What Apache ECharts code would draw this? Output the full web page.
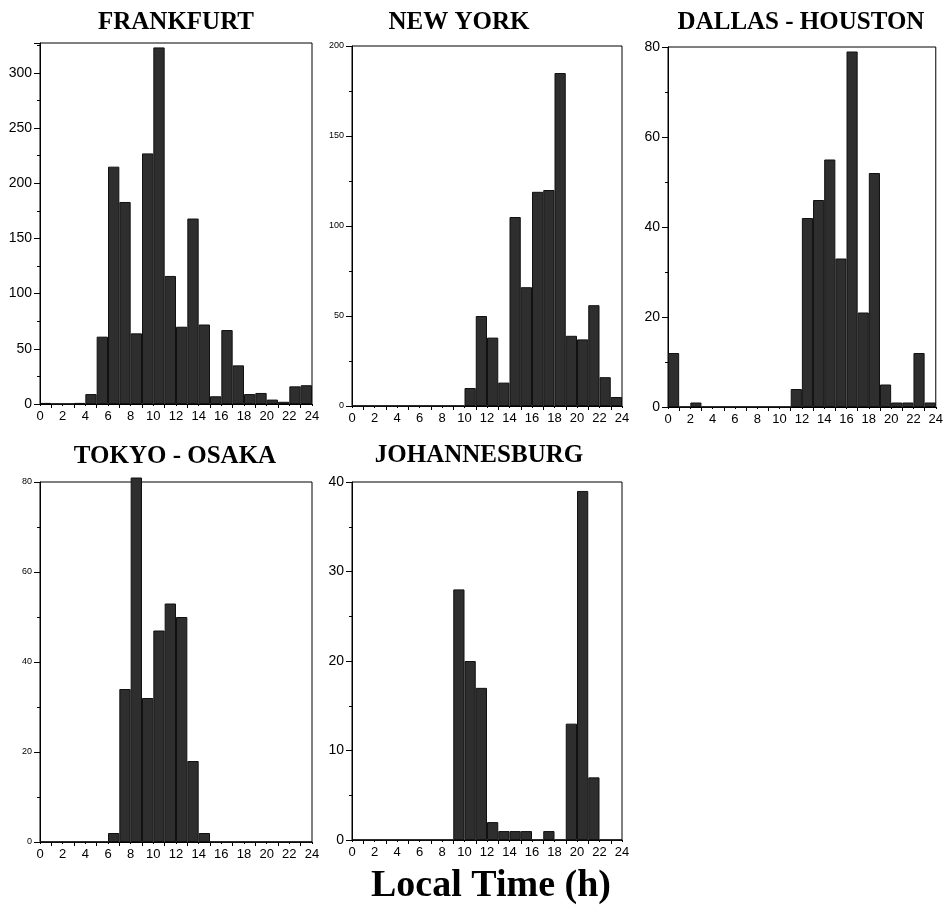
<!DOCTYPE html>
<html><head><meta charset="utf-8">
<script src="https://cdn.jsdelivr.net/npm/echarts@6/dist/echarts.min.js"></script>
<style>html,body{margin:0;padding:0;background:#fff}#c{width:946px;height:912px}</style>
</head><body><div id="c"></div>
<script>
// Hourly bins (start hour of each bin)
const binStarts = [0,1,2,3,4,5,6,7,8,9,10,11,12,13,14,15,16,17,18,19,20,21,22,23];
const xTickLabels = [0,2,4,6,8,10,12,14,16,18,20,22,24];

const frankfurt    = [1,0,0,1,9,61,215,183,64,227,323,116,70,168,72,7,67,35,9,10,4,2,16,17];
const newYork      = [0,0,0,0,0,0,0,0,0,0,10,50,38,13,105,66,119,120,185,39,37,56,16,5];
const dallas       = [12,0,1,0,0,0,0,0,0,0,0,4,42,46,55,33,79,21,52,5,1,1,12,1];
const tokyo        = [0,0,0,0,0,0,2,34,81,32,47,53,50,18,2,0,0,0,0,0,0,0,0,0];
const johannesburg = [0,0,0,0,0,0,0,0,0,28,20,17,2,1,1,1,0,1,0,13,39,7,0,0];

const titles = ['FRANKFURT','NEW YORK','DALLAS - HOUSTON','TOKYO - OSAKA','JOHANNESBURG'];
const yMax = [327, 200, 80, 80, 40];
const yInterval = [50, 50, 20, 20, 10];
const seriesData = [frankfurt, newYork, dallas, tokyo, johannesburg];

const grids = [
  {left:40,  top:43,  width:272, height:361},
  {left:352, top:46,  width:270, height:360},
  {left:668, top:47,  width:272, height:360},
  {left:40,  top:482, width:272, height:360},
  {left:352, top:482, width:270, height:358}
];
const yLabelSize = [14, 9, 14, 9, 14];
const titlePos = [[176,23],[459,23],[801,23],[175,457],[479,456]];

const option = {
  animation:false,
  backgroundColor:'#fff',
  grid: grids.map(g => Object.assign({show:true, borderColor:'#000', borderWidth:1, containLabel:false}, g)),
  xAxis: grids.map((g,i) => ({
    type:'value', gridIndex:i, min:0, max:24, interval:2,
    axisLine:{show:true, lineStyle:{color:'#000', width:1}},
    axisTick:{show:true, length:2, inside:false, lineStyle:{color:'#000'}},
    minorTick:{show:true, splitNumber:2, length:4, lineStyle:{color:'#000', width:1}},
    splitLine:{show:false},
    axisLabel:{color:'#000', fontSize:13, fontFamily:'Liberation Sans', margin:6,
      formatter: v => xTickLabels.indexOf(v) >= 0 ? String(v) : ''}
  })),
  yAxis: grids.map((g,i) => ({
    type:'value', gridIndex:i, min:0, max:yMax[i], interval:yInterval[i],
    axisLine:{show:true, lineStyle:{color:'#000', width:1}},
    axisTick:{show:true, length:6, inside:false, lineStyle:{color:'#000'}},
    minorTick:{show:true, splitNumber:2, length:3, lineStyle:{color:'#000', width:1}},
    splitLine:{show:false},
    axisLabel:{color:'#000', fontSize:yLabelSize[i], fontFamily:'Liberation Sans', margin:8, showMaxLabel: i===0 ? false : true,
      formatter: v => (v % yInterval[i] === 0) ? String(v) : ''}
  })),
  series: seriesData.map((arr,i) => ({
    type:'bar', xAxisIndex:i, yAxisIndex:i,
    data: binStarts.map((h,k) => [h + 0.5, arr[k]]),
    barWidth:'100%', clip:false,
    itemStyle:{color:'#2e2e2e', borderColor:'#111', borderWidth:1}
  })),
  graphic: titles.map((t,i) => ({
    type:'text', x:titlePos[i][0], y:titlePos[i][1],
    style:{text:t, fill:'#000', font:'bold 25px "Liberation Serif"', textAlign:'center', textVerticalAlign:'middle'}
  })).concat([{
    type:'text', x:491, y:886,
    style:{text:'Local Time (h)', fill:'#000', font:'bold 38px "Liberation Serif"', textAlign:'center', textVerticalAlign:'middle'}
  }])
};
const chart = echarts.init(document.getElementById('c'), null, {renderer:'canvas'});
chart.setOption(option);
</script>
</body></html>
